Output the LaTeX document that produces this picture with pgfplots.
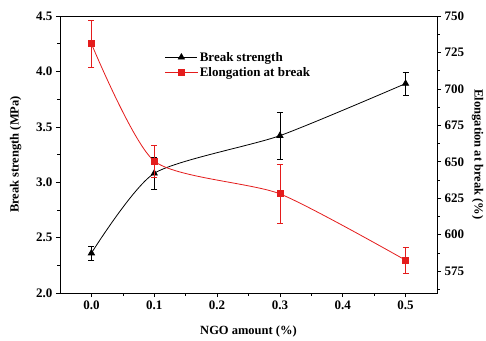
\documentclass[border=0pt]{standalone}
\usepackage{pgfplots}
\pgfplotsset{compat=1.18}
\usepackage{fontspec}
\setmainfont{Liberation Serif}
\definecolor{myred}{RGB}{228,28,28}
\begin{document}
\begin{tikzpicture}
\useasboundingbox (-60pt,-47pt) rectangle (426pt,293pt);
\pgfplotsset{
  every axis/.append style={
    scale only axis, width=377pt, height=277pt,
    xmin=-0.05, xmax=0.55,
    tick align=outside,
    /pgf/number format/assume math mode=true,
    tick label style={font=\fontsize{13}{15}\selectfont\bfseries},
    label style={font=\fontsize{12.5}{15}\selectfont\bfseries},
    major tick length=4pt, minor tick length=2.5pt,
    every tick/.style={black, line width=0.6pt},
    axis line style={line width=0.7pt},
  }
}
\begin{axis}[
  ymin=2.0, ymax=4.5,
  ytick={2.0,2.5,...,4.5},
  minor ytick={2.25,2.75,...,4.25},
  xtick={0,0.1,0.2,0.3,0.4,0.5},
  minor xtick={0.05,0.15,0.25,0.35,0.45},
  xtick pos=bottom, ytick pos=left,
  xticklabel style={/pgf/number format/.cd, fixed, fixed zerofill, precision=1},
  yticklabel style={/pgf/number format/.cd, fixed, fixed zerofill, precision=1},
  xlabel={NGO amount (\%)},
  ylabel={Break strength (MPa)},
  xlabel style={yshift=-10pt},
  ylabel style={yshift=8pt},
]
\addplot[black, line width=0.8pt, smooth, tension=0.4, mark=triangle*, mark size=3.5pt,
  mark options={solid},
  error bars/.cd, y dir=both, y explicit,
  error bar style={black, line width=0.7pt},
  error mark options={rotate=90, mark size=3pt, black, line width=0.7pt}]
  coordinates {
  (0.0,2.36) +- (0,0.065)
  (0.1,3.08) +- (0,0.14)
  (0.3,3.42) +- (0,0.21)
  (0.5,3.89) +- (0,0.105)
};
\end{axis}
\begin{axis}[
  axis y line*=right, axis x line=none,
  ymin=560, ymax=750,
  ytick={575,600,...,750},
  minor ytick={562.5,587.5,...,737.5},
  ylabel={Elongation at break (\%)},
  ylabel style={rotate=180, yshift=1pt},
  legend style={at={(0.27,0.885)}, anchor=north west, draw=none, fill=none,
    font=\fontsize{13}{15}\selectfont\bfseries, row sep=1pt},
  legend cell align=left,
  legend image code/.code={\draw[mark repeat=2, mark phase=2] plot coordinates {(0pt,0pt) (16pt,0pt) (32pt,0pt)};},
]
\addlegendimage{black, line width=0.8pt, mark=triangle*, mark size=3.5pt}
\addlegendentry{Break strength}
\addplot[myred, line width=0.8pt, smooth, tension=0.4, mark=square*, mark size=3pt,
  error bars/.cd, y dir=both, y explicit,
  error bar style={myred, line width=0.7pt},
  error mark options={rotate=90, mark size=3pt, myred, line width=0.7pt}]
  coordinates {
  (0.0,731) +- (0,16)
  (0.1,650.5) +- (0,11)
  (0.3,628) +- (0,20)
  (0.5,582.5) +- (0,9)
};
\addlegendentry{Elongation at break}
\end{axis}
\end{tikzpicture}
\end{document}
